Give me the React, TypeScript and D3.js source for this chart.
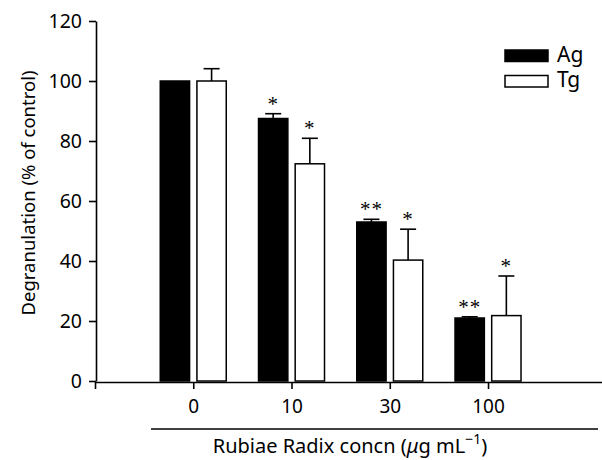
import React, { useRef, useEffect } from 'react';
import * as d3 from 'd3';

// concentrations (ug/mL)
const categories = ['0', '10', '30', '100'];
const seriesNames = ['Ag', 'Tg'];
const agMeans = [100, 87.5, 53, 21];
const agErr = [0, 1.6, 0.9, 0.4];
const tgMeans = [100, 72.4, 40.3, 21.8];
const tgErr = [4.1, 8.5, 10.3, 13.2];
const agStars = ['', '*', '**', '**'];
const tgStars = ['', '*', '*', '*'];
const yTicks = [0, 20, 40, 60, 80, 100, 120];

const FONT = '"Noto Sans", sans-serif';

export default function App() {
  const svgRef = useRef<SVGSVGElement>(null);

  useEffect(() => {
    const svg = d3.select(svgRef.current);
    svg.selectAll('*').remove();

    // scales
    const x = d3.scaleLinear().domain([-1, 4.16]).range([95, 602]);
    const y = d3.scaleLinear().domain([0, 120]).range([381, 21]);
    const inner = d3.scaleBand().domain(seriesNames).range([-33, 33]).paddingInner(0.2);

    // y axis
    const yAxis = svg
      .append('g')
      .attr('transform', 'translate(96,0)')
      .call(d3.axisLeft(y).tickValues(yTicks).tickSize(7).tickSizeOuter(0).tickPadding(7));
    yAxis.selectAll('path,line').attr('stroke', '#000').attr('stroke-width', 1.6);
    yAxis.selectAll('text').attr('font-family', FONT).attr('font-size', 19.5).attr('fill', '#000');

    // bars
    const series = [
      { name: 'Ag', means: agMeans, err: agErr, stars: agStars, fill: '#000' },
      { name: 'Tg', means: tgMeans, err: tgErr, stars: tgStars, fill: '#fff' },
    ];
    series.forEach((s) => {
      const g = svg.append('g');
      s.means.forEach((v, i) => {
        const x0 = x(i) + (inner(s.name) as number);
        const w = inner.bandwidth();
        const cx = x0 + w / 2;
        g.append('rect')
          .attr('x', x0)
          .attr('y', y(v))
          .attr('width', w)
          .attr('height', y(0) - y(v))
          .attr('fill', s.fill)
          .attr('stroke', '#000')
          .attr('stroke-width', 1.5);
        const top = y(v + s.err[i]);
        if (s.err[i] > 0) {
          g.append('line')
            .attr('x1', cx).attr('x2', cx)
            .attr('y1', y(v)).attr('y2', top)
            .attr('stroke', '#000').attr('stroke-width', 1.6);
          g.append('line')
            .attr('x1', cx - 8).attr('x2', cx + 8)
            .attr('y1', top).attr('y2', top)
            .attr('stroke', '#000').attr('stroke-width', 1.6);
        }
        if (s.stars[i]) {
          g.append('text')
            .attr('x', cx)
            .attr('y', top - 3)
            .attr('text-anchor', 'middle')
            .attr('font-family', '"Liberation Serif", serif')
            .attr('font-size', 21)
            .attr('letter-spacing', 1)
            .text(s.stars[i]);
        }
      });
    });

    // x axis
    const xAxis = svg
      .append('g')
      .attr('transform', 'translate(0,382)')
      .call(
        d3
          .axisBottom(x)
          .tickValues([-1, 0, 1, 2, 3])
          .tickFormat((d) => (d as number) < 0 ? '' : categories[d as number])
          .tickSize(7)
          .tickSizeOuter(0)
          .tickPadding(11)
      );
    xAxis.selectAll('path,line').attr('stroke', '#000').attr('stroke-width', 1.6);
    xAxis.selectAll('text').attr('font-family', FONT).attr('font-size', 19).attr('fill', '#000');

    // separator line under categories
    svg.append('line')
      .attr('x1', 151).attr('x2', 598)
      .attr('y1', 429).attr('y2', 429)
      .attr('stroke', '#000').attr('stroke-width', 1.5);

    // x title
    const xt = svg.append('text')
      .attr('x', 350)
      .attr('y', 453)
      .attr('text-anchor', 'middle')
      .attr('font-family', FONT)
      .attr('font-size', 20);
    xt.append('tspan').text('Rubiae Radix concn (');
    xt.append('tspan').attr('font-style', 'italic').text('μ');
    xt.append('tspan').text('g mL');
    xt.append('tspan').attr('dy', -9).attr('font-size', 14).text('−1');
    xt.append('tspan').attr('dy', 9).text(')');

    // y title
    svg.append('text')
      .attr('transform', 'translate(35,193) rotate(-90)')
      .attr('text-anchor', 'middle')
      .attr('font-family', FONT)
      .attr('font-size', 18.5)
      .text('Degranulation (% of control)');

    // legend
    const legend = svg.append('g').attr('transform', 'translate(505,50)');
    series.forEach((s, i) => {
      legend.append('rect')
        .attr('x', 0).attr('y', i * 25.5)
        .attr('width', 43).attr('height', 11.5)
        .attr('fill', s.fill).attr('stroke', '#000').attr('stroke-width', 1.5);
      legend.append('text')
        .attr('x', 52).attr('y', i * 25.5 + 11.5)
        .attr('font-family', FONT)
        .attr('font-size', 21)
        .text(s.name);
    });
  }, []);

  return (
    <svg
      ref={svgRef}
      width={602}
      height={460}
      style={{ position: 'absolute', left: 0, top: 0, background: '#fff' }}
    />
  );
}
